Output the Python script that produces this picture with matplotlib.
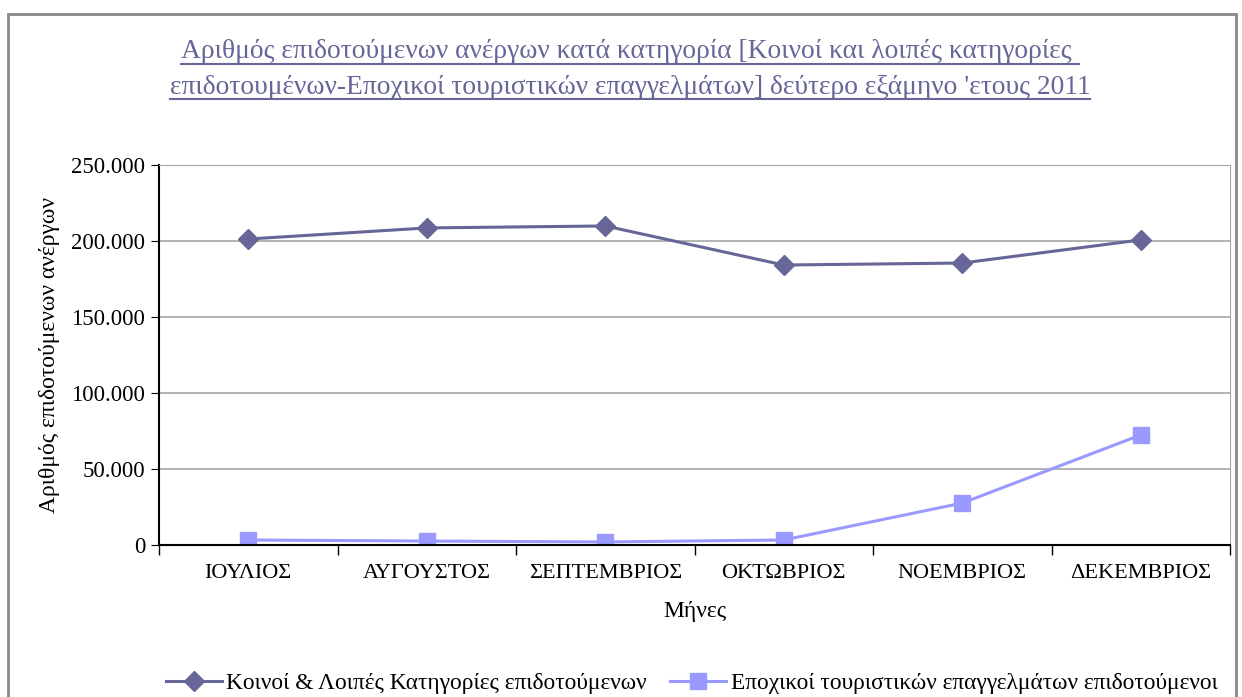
import numpy as np
import matplotlib.pyplot as plt
from matplotlib.ticker import FuncFormatter

# Δεδομένα (εκτίμηση από το γράφημα)
mines = ['ΙΟΥΛΙΟΣ', 'ΑΥΓΟΥΣΤΟΣ', 'ΣΕΠΤΕΜΒΡΙΟΣ', 'ΟΚΤΩΒΡΙΟΣ', 'ΝΟΕΜΒΡΙΟΣ', 'ΔΕΚΕΜΒΡΙΟΣ']
koinoi = [201300, 208600, 209900, 184200, 185500, 200700]
epoxikoi = [3300, 2600, 2000, 3300, 27600, 72400]

plt.rcParams['font.family'] = ['Liberation Serif', 'DejaVu Serif']

fig = plt.figure(figsize=(12.42, 6.97), dpi=100)
ax = fig.add_axes([159/1242, 1 - 545/697, (1230-159)/1242, (545-165)/697])

x = np.arange(len(mines))
ax.plot(x, koinoi, color='#666699', lw=2.2, marker='D', ms=10,
        label='Κοινοί & Λοιπές Κατηγορίες επιδοτούμενων')
ax.plot(x, epoxikoi, color='#9999ff', lw=2.2, marker='s', ms=12,
        label='Εποχικοί τουριστικών επαγγελμάτων επιδοτούμενοι')

ax.set_xlim(-0.5, len(mines) - 0.5)
ax.set_ylim(0, 250000)
ax.set_yticks(np.arange(0, 250001, 50000))
ax.yaxis.set_major_formatter(FuncFormatter(lambda v, p: f'{int(v):,}'.replace(',', '.')))
ax.set_xticks(x)
ax.set_xticklabels(mines)
ax.set_xticks(np.arange(-0.5, len(mines)), minor=True)
ax.tick_params(axis='x', which='major', length=0, pad=14, labelsize=16)
ax.tick_params(axis='x', which='minor', length=7, direction='out', width=1)
ax.tick_params(axis='y', length=6, direction='out', labelsize=16.5, pad=4)
ax.grid(axis='y', color='#a6a6a6', lw=1.2)
ax.set_axisbelow(True)
for s in ['top', 'right']:
    ax.spines[s].set_color('#a6a6a6')
for s in ['left', 'bottom']:
    ax.spines[s].set_color('black')
    ax.spines[s].set_linewidth(1.5)

ax.set_xlabel('Μήνες', fontsize=17, labelpad=13)
ax.set_ylabel('Αριθμός επιδοτούμενων ανέργων', fontsize=17, labelpad=8)

fig.legend(loc='center', bbox_to_anchor=(0.557, 1 - 683/697), ncol=2, frameon=False,
           fontsize=16.8, handlelength=2.4, columnspacing=1.0, handletextpad=0.2)

# τίτλος με υπογράμμιση
tcol = '#666699'
t1 = fig.text(630/1242, 1 - 52/697, 'Αριθμός επιδοτούμενων ανέργων κατά κατηγορία [Κοινοί και λοιπές κατηγορίες ',
              ha='center', va='center', fontsize=19.8, color=tcol)
t2 = fig.text(630/1242, 1 - 87/697, 'επιδοτουμένων-Εποχικοί τουριστικών επαγγελμάτων] δεύτερο εξάμηνο \'ετους 2011',
              ha='center', va='center', fontsize=19.8, color=tcol)
fig.canvas.draw()
r = fig.canvas.get_renderer()
for t, yy in [(t1, 64), (t2, 99)]:
    bb = t.get_window_extent(r)
    fig.add_artist(plt.Line2D([bb.x0/1242, bb.x1/1242], [1 - yy/697] * 2,
                              color=tcol, lw=1.5, transform=fig.transFigure))

# πλαίσιο γραφήματος
fig.add_artist(plt.Rectangle((8/1242, -0.05), (1236-8)/1242, 1.05 - 14/697, fill=False,
                             edgecolor='#888888', lw=2, transform=fig.transFigure))

fig.savefig('out.png', dpi=100)
